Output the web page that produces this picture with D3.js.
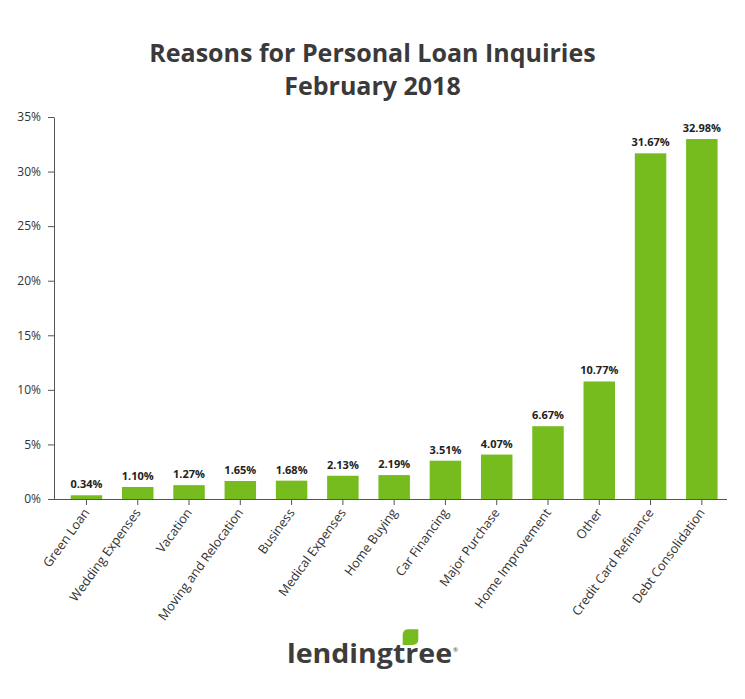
<!DOCTYPE html>
<html>
<head>
<meta charset="utf-8">
<script src="https://cdn.jsdelivr.net/npm/d3@7"></script>
<style>
  html, body { margin: 0; padding: 0; background: #fff; }
  svg { display: block; font-family: "Open Sans", sans-serif; }
</style>
</head>
<body>
<svg id="chart" width="745" height="699"></svg>
<script>
const categories = ["Green Loan", "Wedding Expenses", "Vacation", "Moving and Relocation", "Business",
  "Medical Expenses", "Home Buying", "Car Financing", "Major Purchase", "Home Improvement",
  "Other", "Credit Card Refinance", "Debt Consolidation"];
const values = [0.34, 1.10, 1.27, 1.65, 1.68, 2.13, 2.19, 3.51, 4.07, 6.67, 10.77, 31.67, 32.98];
const yTicks = [0, 5, 10, 15, 20, 25, 30, 35];
const titleLines = ["Reasons for Personal Loan Inquiries", "February 2018"];

const svg = d3.select("#chart");
const textColor = "#333333";
const barColor = "#77bc1f";

const y0 = 499, y1 = 117, xLeft = 54, xAxisEnd = 727;

const x = d3.scaleBand()
  .domain(categories)
  .range([xLeft, 734.3])
  .paddingInner(0.386)
  .paddingOuter(0.326);

const y = d3.scaleLinear().domain([0, 35]).range([y0, y1]);

// Title
svg.append("g").selectAll("text").data(titleLines).join("text")
  .attr("x", 372.5)
  .attr("y", (d, i) => 62 + i * 33)
  .attr("text-anchor", "middle")
  .attr("font-size", 25)
  .attr("font-weight", 700)
  .attr("fill", "#3a3a3a")
  .text(d => d);

// Y axis
const yAxis = svg.append("g")
  .attr("transform", `translate(${xLeft},0)`)
  .call(d3.axisLeft(y).tickValues(yTicks).tickFormat(d => d + "%").tickSize(6).tickPadding(7).tickSizeOuter(0));
yAxis.select(".domain").attr("stroke", "#555");
yAxis.selectAll(".tick line").attr("stroke", "#555");
yAxis.selectAll(".tick text")
  .attr("font-family", "Open Sans")
  .attr("font-size", 12)
  .attr("fill", textColor);

// Bars
svg.append("g").selectAll("rect").data(values).join("rect")
  .attr("x", (d, i) => x(categories[i]))
  .attr("y", d => y(d))
  .attr("width", x.bandwidth())
  .attr("height", d => y0 - y(d))
  .attr("fill", barColor);

// Value labels
svg.append("g").selectAll("text").data(values).join("text")
  .attr("x", (d, i) => x(categories[i]) + x.bandwidth() / 2)
  .attr("y", d => y(d) - 7)
  .attr("text-anchor", "middle")
  .attr("font-size", 11)
  .attr("font-weight", 700)
  .attr("fill", "#222")
  .text(d => d.toFixed(2) + "%");

// X axis
const xAxis = svg.append("g")
  .attr("transform", `translate(0,${y0})`)
  .call(d3.axisBottom(x).tickSize(6).tickSizeOuter(0));
xAxis.select(".domain").remove();
xAxis.selectAll(".tick line").attr("stroke", "#555");
xAxis.append("line")
  .attr("x1", xLeft - 6).attr("x2", xAxisEnd)
  .attr("y1", 0.5).attr("y2", 0.5)
  .attr("stroke", "#555");
xAxis.selectAll(".tick text")
  .attr("font-family", "Open Sans")
  .attr("font-size", 12.7)
  .attr("fill", textColor)
  .attr("text-anchor", "end")
  .attr("dy", "0.35em")
  .attr("transform", "translate(0,11) rotate(-54)")
  .attr("y", 0);

// Logo
const logo = svg.append("g");
logo.append("text")
  .attr("x", 287)
  .attr("y", 663)
  .attr("font-family", "Open Sans")
  .attr("font-weight", 700)
  .attr("font-size", 27)
  .attr("fill", "#3d3d3d")
  .attr("textLength", 165)
  .attr("lengthAdjust", "spacingAndGlyphs")
  .text("lendingtree");
logo.append("path")
  .attr("d", "M402.7,645 L402.7,635 Q402.7,629.3 408.5,629.3 L418.3,629.3 L418.3,639.3 Q418.3,645 412.5,645 Z")
  .attr("fill", barColor);
logo.append("text")
  .attr("x", 453)
  .attr("y", 652)
  .attr("font-size", 6)
  .attr("fill", "#3d3d3d")
  .text("®");
</script>
</body>
</html>
